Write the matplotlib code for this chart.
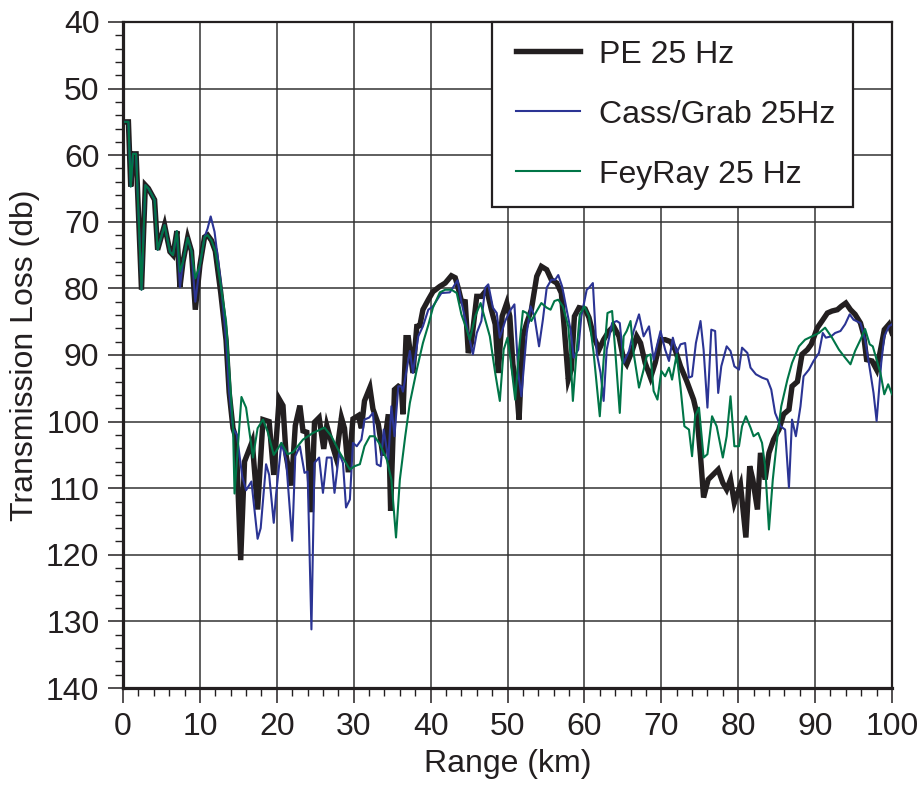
import numpy as np
import matplotlib
matplotlib.use("Agg")
import matplotlib.pyplot as plt
from matplotlib.ticker import MultipleLocator
from matplotlib.lines import Line2D
from matplotlib.legend_handler import HandlerLine2D

plt.rcParams['font.family'] = ['Liberation Sans', 'DejaVu Sans']

# PE 25 Hz (thick black)
pe_x = [0.3, 0.7, 1.0, 1.3, 1.7, 2.4, 2.9, 3.3, 4.1, 4.5, 5.4, 6.1, 6.5, 7.0, 7.4, 7.8, 8.4, 8.9, 9.4, 10.0,
        10.6, 11.0, 11.5, 12.0, 12.7, 13.4, 13.8, 14.3, 14.7, 15.3, 15.8, 16.8, 17.5, 18.2, 19.0, 19.6, 20.3, 20.8, 21.2, 21.9,
        22.4, 23.0, 23.4, 23.9, 24.5, 24.9, 25.5, 26.1, 26.5, 27.1, 27.7, 28.4, 28.8, 29.3, 29.9, 30.6, 31.0, 31.4, 32.1, 32.5,
        33.2, 33.8, 34.5, 34.8, 35.3, 35.8, 36.2, 36.4, 36.8, 37.1, 37.7, 38.2, 38.6, 39.0, 39.7, 40.3, 41.2, 41.9, 42.7, 43.2,
        43.6, 44.0, 44.5, 44.9, 45.3, 46.0, 46.6, 47.3, 47.9, 48.4, 48.8, 49.3, 49.9, 50.3, 50.7, 51.2, 51.5, 52.0, 52.5, 53.1,
        53.8, 54.4, 55.1, 55.7, 56.4, 57.0, 57.4, 57.9, 58.3, 58.7, 59.3, 60.1, 60.6, 61.2, 61.9, 62.5, 63.2, 63.8, 64.5, 65.1,
        65.5, 66.2, 66.8, 67.3, 67.9, 68.6, 69.2, 69.9, 70.5, 71.2, 71.8, 72.5, 73.3, 74.2, 74.6, 75.1, 75.5, 76.1, 76.8, 77.4,
        78.0, 78.5, 79.0, 79.5, 80.3, 81.0, 81.5, 81.9, 82.5, 82.9, 83.5, 84.0, 84.6, 85.3, 85.9, 86.6, 87.0, 87.7, 88.3, 89.0,
        89.5, 90.3, 90.9, 91.6, 92.2, 92.9, 93.4, 94.0, 94.6, 95.2, 95.9, 96.3, 96.7, 97.4, 98.0, 98.6, 99.0, 99.6, 100.0]
pe_y = [55.0, 55.0, 64.7, 59.8, 59.8, 80.2, 64.5, 65.0, 66.7, 74.2, 70.5, 74.5, 75.0, 71.4, 79.8, 76.0, 72.4, 74.4, 83.2, 76.5,
        72.3, 72.0, 72.8, 74.4, 80.6, 87.8, 95.6, 101.0, 102.5, 120.8, 106.0, 103.0, 113.2, 99.7, 100.0, 108.0, 96.6, 97.6, 105.0, 109.6,
        100.6, 97.6, 101.4, 101.6, 113.6, 100.1, 99.4, 104.1, 100.6, 103.1, 105.4, 99.4, 101.0, 107.6, 99.6, 99.1, 101.0, 96.9, 94.9, 98.1,
        100.4, 105.1, 98.9, 113.4, 95.2, 94.7, 95.0, 98.9, 87.4, 87.4, 92.7, 85.7, 85.6, 83.2, 81.7, 80.5, 79.7, 79.2, 78.1, 78.4,
        80.0, 81.9, 82.0, 89.7, 88.2, 81.2, 81.2, 80.2, 83.2, 85.4, 92.7, 84.2, 82.2, 84.2, 91.4, 95.2, 99.7, 87.2, 85.2, 83.2,
        78.2, 76.7, 77.2, 78.7, 79.2, 80.7, 86.2, 93.7, 92.2, 84.2, 82.9, 83.1, 84.4, 87.2, 89.2, 87.7, 86.4, 85.7, 87.2, 90.7,
        91.4, 89.4, 87.2, 88.2, 91.2, 93.4, 91.2, 87.7, 87.7, 88.0, 89.2, 91.7, 93.9, 96.7, 98.7, 105.2, 111.4, 108.7, 107.9, 107.2,
        109.2, 110.2, 108.7, 112.2, 109.5, 117.4, 106.7, 108.7, 113.2, 104.7, 108.7, 104.7, 102.7, 101.2, 98.9, 98.2, 94.7, 94.0, 89.9, 89.2,
        88.4, 85.9, 84.9, 83.7, 83.4, 83.2, 82.7, 82.2, 83.2, 83.9, 85.2, 86.9, 90.7, 90.9, 92.2, 88.7, 86.2, 85.4, 86.7]

# Cass/Grab 25Hz (thin blue)
cg_x = [0.3, 0.7, 1.0, 1.3, 1.7, 2.4, 2.9, 3.3, 4.1, 4.5, 5.4, 6.1, 6.5, 7.0, 7.4, 7.8, 8.4, 8.9, 9.4, 10.0,
        10.6, 11.0, 11.4, 11.9, 12.7, 13.4, 13.8, 14.3, 14.8, 15.5, 16.0, 16.7, 17.5, 17.9, 18.6, 19.0, 19.6, 19.9, 20.6, 21.2,
        22.0, 22.4, 23.0, 23.6, 24.0, 24.5, 24.9, 25.5, 26.0, 26.5, 27.1, 27.5, 28.1, 28.6, 29.0, 29.5, 29.9, 30.4, 31.0, 31.4,
        32.0, 32.5, 33.0, 33.5, 33.9, 34.5, 34.9, 35.3, 35.8, 36.2, 36.4, 37.3, 37.7, 38.4, 39.0, 39.7, 40.3, 41.4, 42.5, 43.0,
        43.5, 44.0, 44.7, 45.5, 46.0, 46.6, 47.1, 47.5, 48.1, 48.6, 49.0, 49.7, 50.3, 50.9, 51.4, 51.8, 52.5, 53.0, 53.5, 54.1,
        54.6, 55.1, 55.7, 56.2, 56.6, 57.1, 57.7, 58.2, 58.6, 59.2, 59.6, 60.3, 60.6, 61.1, 61.6, 62.1, 62.5, 62.9, 63.6, 64.2,
        64.6, 65.1, 65.8, 66.4, 67.1, 67.7, 68.4, 69.0, 69.9, 70.5, 71.0, 71.5, 72.0, 72.5, 73.1, 73.6, 74.0, 74.5, 75.1, 75.5,
        76.0, 76.5, 77.0, 77.4, 77.8, 78.5, 79.0, 79.5, 80.1, 80.5, 81.2, 81.6, 82.3, 83.1, 83.8, 84.3, 84.8, 85.5, 86.1, 86.6,
        87.0, 87.5, 88.1, 88.5, 89.2, 89.8, 90.5, 91.0, 91.4, 92.1, 92.6, 93.3, 93.9, 94.5, 95.0, 95.9, 96.5, 97.2, 97.6, 98.0,
        98.6, 99.0, 99.6, 100.0]
cg_y = [55.0, 55.0, 64.7, 59.8, 59.8, 80.2, 64.5, 65.0, 66.7, 74.2, 70.5, 74.5, 75.0, 71.4, 79.8, 76.0, 72.4, 74.4, 82.0, 76.5,
        72.3, 71.0, 69.2, 71.5, 79.0, 87.8, 95.6, 101.0, 102.0, 108.2, 110.3, 109.0, 117.6, 116.0, 106.4, 108.0, 115.2, 111.0, 103.2, 105.7,
        117.9, 105.2, 103.7, 107.7, 107.5, 131.2, 106.2, 105.4, 110.7, 105.4, 105.4, 110.7, 104.7, 106.2, 112.9, 111.7, 103.2, 103.7, 102.7, 99.7,
        99.4, 98.7, 106.4, 106.7, 101.2, 105.7, 97.7, 102.2, 94.7, 94.7, 95.5, 89.4, 92.7, 87.2, 85.7, 83.2, 82.7, 80.7, 80.6, 79.7,
        78.8, 82.0, 85.7, 89.9, 86.7, 84.9, 79.9, 79.4, 82.9, 83.7, 87.4, 84.9, 83.4, 82.4, 92.7, 96.2, 86.7, 82.7, 84.2, 88.7,
        84.7, 79.9, 78.7, 78.7, 78.0, 79.7, 83.2, 86.2, 90.4, 89.2, 84.2, 80.2, 79.9, 79.2, 89.7, 92.7, 96.9, 89.2, 85.2, 84.9,
        85.2, 91.2, 89.4, 86.4, 83.9, 87.2, 85.7, 90.7, 86.4, 89.2, 90.9, 87.4, 89.7, 88.4, 88.2, 93.4, 93.2, 88.2, 84.9, 89.2,
        97.9, 86.2, 86.4, 95.7, 91.7, 88.7, 89.4, 91.7, 92.2, 88.9, 89.7, 91.9, 92.9, 93.4, 93.7, 95.2, 98.7, 100.7, 101.2, 109.9,
        99.7, 102.2, 97.7, 93.2, 92.2, 90.9, 89.7, 86.7, 87.4, 87.2, 86.7, 86.4, 85.4, 83.9, 84.7, 85.2, 87.7, 92.7, 95.7, 99.9,
        91.2, 87.2, 85.7, 85.4]

# FeyRay 25 Hz (thin green)
fr_x = [0.3, 0.7, 1.0, 1.3, 1.7, 2.4, 2.9, 3.3, 4.1, 4.5, 5.4, 6.1, 6.5, 7.0, 7.4, 7.8, 8.4, 8.9, 9.4, 10.0,
        10.6, 11.0, 11.5, 12.0, 12.7, 13.4, 13.8, 14.3, 14.5, 15.4, 16.0, 16.9, 17.5, 18.2, 18.8, 19.6, 20.6, 21.4, 22.1, 23.4,
        24.7, 26.2, 27.1, 28.2, 29.5, 30.1, 30.8, 31.4, 32.1, 32.7, 33.4, 34.3, 34.9, 35.5, 36.0, 36.7, 37.3, 38.2, 39.0, 39.7,
        40.3, 41.2, 41.9, 42.7, 43.4, 44.0, 44.7, 45.1, 45.8, 46.5, 47.1, 47.7, 48.4, 49.0, 49.5, 50.0, 50.4, 51.0, 51.5, 52.0,
        52.5, 53.1, 53.8, 54.4, 55.1, 55.6, 56.1, 56.6, 57.2, 57.9, 58.2, 58.5, 59.0, 59.4, 60.0, 60.6, 61.2, 62.0, 62.5, 63.0,
        63.6, 64.0, 64.6, 65.1, 65.5, 66.0, 66.4, 67.1, 67.7, 68.1, 68.6, 69.0, 69.5, 70.0, 70.5, 71.0, 71.4, 72.0, 72.5, 73.0,
        73.6, 74.0, 74.4, 74.9, 75.5, 76.0, 76.6, 77.2, 78.0, 78.5, 79.0, 79.5, 80.1, 80.5, 81.0, 81.6, 82.0, 82.6, 83.1, 83.5,
        84.0, 84.5, 85.1, 85.6, 86.4, 87.0, 87.9, 88.7, 89.6, 90.5, 91.3, 92.2, 93.1, 93.9, 94.6, 95.2, 95.9, 96.5, 97.1, 97.5,
        98.0, 98.5, 99.0, 99.5, 100.0]
fr_y = [55.0, 55.0, 64.7, 59.8, 59.8, 80.2, 64.5, 65.0, 66.7, 74.2, 70.5, 74.5, 75.0, 71.4, 77.5, 76.0, 72.4, 74.4, 78.5, 76.5,
        72.3, 72.0, 72.8, 74.4, 79.5, 85.0, 92.0, 100.8, 110.8, 96.3, 97.9, 105.4, 101.0, 99.7, 101.5, 105.0, 103.2, 104.9, 104.6, 102.7,
        101.7, 100.9, 102.2, 104.7, 107.2, 106.7, 106.4, 103.7, 102.2, 102.2, 103.4, 105.7, 108.7, 117.4, 108.7, 102.2, 97.2, 92.2, 88.2, 85.5,
        82.9, 80.6, 80.2, 80.2, 80.7, 83.9, 86.2, 87.7, 84.2, 82.2, 84.7, 87.2, 92.7, 96.9, 89.2, 87.4, 90.7, 96.7, 89.2, 83.4,
        83.7, 84.9, 83.4, 82.2, 82.9, 83.2, 81.9, 81.7, 82.7, 85.7, 90.2, 96.9, 89.2, 83.9, 82.7, 84.2, 89.7, 99.2, 90.7, 83.7,
        83.4, 89.2, 98.7, 87.2, 86.4, 84.9, 89.7, 94.9, 92.2, 90.2, 89.9, 95.4, 96.7, 92.4, 93.2, 91.9, 93.7, 89.9, 94.9, 100.7,
        101.2, 105.2, 99.2, 97.9, 105.4, 104.9, 99.2, 100.7, 105.4, 102.2, 96.2, 103.7, 103.7, 100.7, 99.2, 100.9, 102.2, 101.7, 103.2, 106.7,
        116.2, 108.7, 102.2, 97.7, 93.7, 91.2, 88.7, 87.7, 87.2, 86.7, 85.9, 87.4, 89.2, 90.4, 91.4, 89.4, 87.7, 86.1, 88.4, 88.7,
        90.7, 92.7, 95.9, 94.4, 95.9]

fig = plt.figure(figsize=(9.23, 7.90), dpi=100)
ax = fig.add_axes([0.1333, 0.1291, 0.8331, 0.8431])

ax.plot(pe_x, pe_y, color='#231f20', lw=3.9, label='PE 25 Hz', solid_joinstyle='miter', zorder=3)
ax.plot(cg_x, cg_y, color='#2b3494', lw=1.5, label='Cass/Grab 25Hz', zorder=4)
ax.plot(fr_x, fr_y, color='#007547', lw=1.5, label='FeyRay 25 Hz', zorder=5)

ax.set_xlim(0, 100)
ax.set_ylim(140, 40)
ax.xaxis.set_major_locator(MultipleLocator(10))
ax.xaxis.set_minor_locator(MultipleLocator(2))
ax.yaxis.set_major_locator(MultipleLocator(10))
ax.yaxis.set_minor_locator(MultipleLocator(2))
ax.tick_params(which='major', length=11, width=1.1, labelsize=23, color='#231f20', labelcolor='#231f20', pad=6)
ax.tick_params(which='minor', length=6, width=1.0, color='#231f20')
ax.grid(True, which='major', color='#333333', lw=1.1)

for side in ['left', 'bottom']:
    ax.spines[side].set_linewidth(2.3)
for side in ['right', 'top']:
    ax.spines[side].set_linewidth(1.6)
for s in ax.spines.values():
    s.set_color('#231f20')

ax.set_xlabel('Range (km)', fontsize=23, color='#231f20', labelpad=5)
ax.set_ylabel('Transmission Loss (db)', fontsize=23, color='#231f20', labelpad=4)

leg = ax.legend(loc='upper right', bbox_to_anchor=(0.949, 1.0), borderaxespad=0,
                fontsize=23, frameon=True, fancybox=False, handlelength=2.22,
                handletextpad=0.58, labelspacing=0.94, borderpad=0.55,
                handler_map={Line2D: HandlerLine2D(xpad=0.2)})
leg.get_frame().set_edgecolor('#231f20')
leg.get_frame().set_linewidth(1.6)
leg.get_frame().set_alpha(1)
for t in leg.get_texts():
    t.set_color('#231f20')

fig.savefig('out.png', dpi=100)
